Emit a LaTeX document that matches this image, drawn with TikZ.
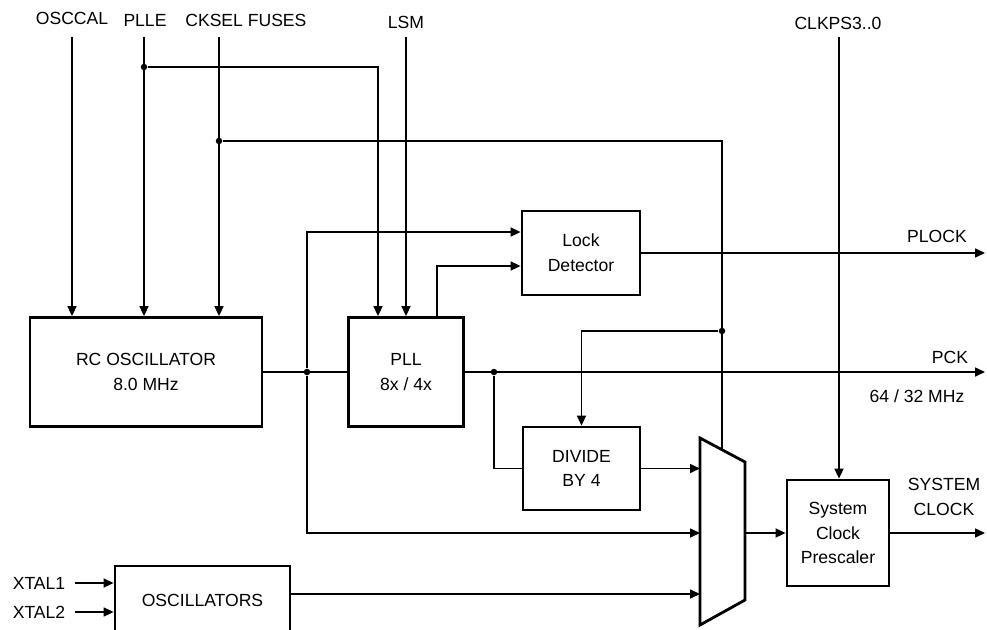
\documentclass[tikz,border=0pt]{standalone}
\usepackage{fontspec}
\setmainfont{Liberation Sans}
\usetikzlibrary{positioning,arrows.meta}

\begin{document}
\begin{tikzpicture}[
        x=0.02cm, y=-0.02cm,
        every node/.style={font=\fontsize{10}{14}\selectfont},
        block/.style={draw, line width=1.6pt, line join=miter, align=center, inner sep=0pt},
        wire/.style={line width=0.9pt},
        arrow/.style={wire, -{Triangle[length=2mm, width=1.8mm]}},
        dot/.style={circle, fill, inner sep=0pt, minimum size=1.3mm},
        sig/.style={inner sep=0pt, align=center}
    ]
        \useasboundingbox (0,0) rectangle (987,629);

        % Blocks
        \node[block, minimum width=4.64cm, minimum height=2.18cm] (rc) at (146,372) {RC OSCILLATOR\\8.0 MHz};
        \node[block, minimum width=2.3cm, minimum height=2.18cm] (pll) at (406,372) {PLL\\8x / 4x};
        \node[block, minimum width=2.36cm, minimum height=1.68cm] (ld) at (581,253) {Lock\\Detector};
        \node[block, minimum width=2.34cm, minimum height=1.66cm] (dv) at (581.5,468.5) {DIVIDE\\BY 4};
        \node[block, minimum width=2.04cm, minimum height=2.12cm] (ps) at (838,533) {System\\Clock\\Prescaler};
        \node[block, minimum width=3.5cm, minimum height=1.36cm] (osc) at (202.5,600) {OSCILLATORS};

        % Clock multiplexer
        \draw[block] (700,438) -- (745,462) -- (745,600) -- (700,625) -- cycle;
        \coordinate (muxl) at (700,531);
        \coordinate (muxtop) at (722,450);
        \coordinate (muxout) at (745,533);
        \coordinate (edge) at (985,0);

        % Signal names
        \node[sig] (oscal) at (72,18) {OSCCAL};
        \node[sig] (plle) at (145,20) {PLLE};
        \node[sig, anchor=west] (cksel) at (185,20) {CKSEL FUSES};
        \node[sig] (lsm) at (406,22) {LSM};
        \node[sig] (clkps) at (838,23) {CLKPS3..0};
        \node[sig] (plock) at (937,236) {PLOCK};
        \node[sig] (pck) at (950,357) {PCK};
        \node[sig] (pckf) at (917,396) {64 / 32 MHz};
        \node[sig] (sysclk) at (944,497) {SYSTEM\\CLOCK};
        \node[sig] (xtal1) at (39,583) {XTAL1};
        \node[sig] (xtal2) at (39,612) {XTAL2};

        \coordinate (oscal-in) at (72,37);
        \coordinate (plle-in) at (144,37);
        \coordinate (cksel-in) at (219,37);
        \coordinate (lsm-in) at (406,37);
        \coordinate (clkps-in) at (839,37);

        % Branch points
        \node[dot] (d-plle) at (144,67) {};
        \node[dot] (d-cksel) at (219,141) {};
        \node[dot] (d-rc) at (307,372) {};
        \node[dot] (d-pll) at (494,372) {};
        \node[dot] (d-mux) at (722,331) {};

        % Control inputs
        \draw[arrow] (oscal-in) -- (oscal-in |- rc.north);
        \draw[arrow] (plle-in) -- (plle-in |- rc.north);
        \draw[arrow] (cksel-in) -- (cksel-in |- rc.north);
        \draw[arrow] (lsm-in) -- (lsm-in |- pll.north);
        \draw[arrow] (clkps-in) -- (clkps-in |- ps.north);
        \draw[arrow] (d-plle) -| ([xshift=-0.56cm]pll.north);
        \draw[wire] (d-cksel) -| (muxtop);
        \draw[arrow] (d-mux) -| (dv.north);

        % Clock paths
        \draw[wire] (rc.east) -- (pll.west);
        \draw[arrow] (d-rc) |- ([yshift=0.42cm]ld.west);
        \draw[arrow] (d-rc) |- (muxl |- 0,533);
        \draw[arrow] ([xshift=0.62cm]pll.north) |- ([yshift=-0.26cm]ld.west);
        \draw[arrow] (ld.east) -- (ld.east -| edge);
        \draw[arrow] (pll.east) -- (pll.east -| edge);
        \draw[wire] (d-pll) |- (dv.west);
        \draw[arrow] (dv.east) -- (dv.east -| muxl);
        \draw[arrow] ([yshift=0.12cm]osc.east) -- ([yshift=0.12cm]osc.east -| muxl);
        \draw[arrow] (muxout) -- (ps.west);
        \draw[arrow] (ps.east) -- (ps.east -| edge);
        \draw[arrow] (xtal1.east) ++(0.18cm,0) -- (xtal1 -| osc.west);
        \draw[arrow] (xtal2.east) ++(0.18cm,0) -- (xtal2 -| osc.west);
    \end{tikzpicture}
\end{document}
